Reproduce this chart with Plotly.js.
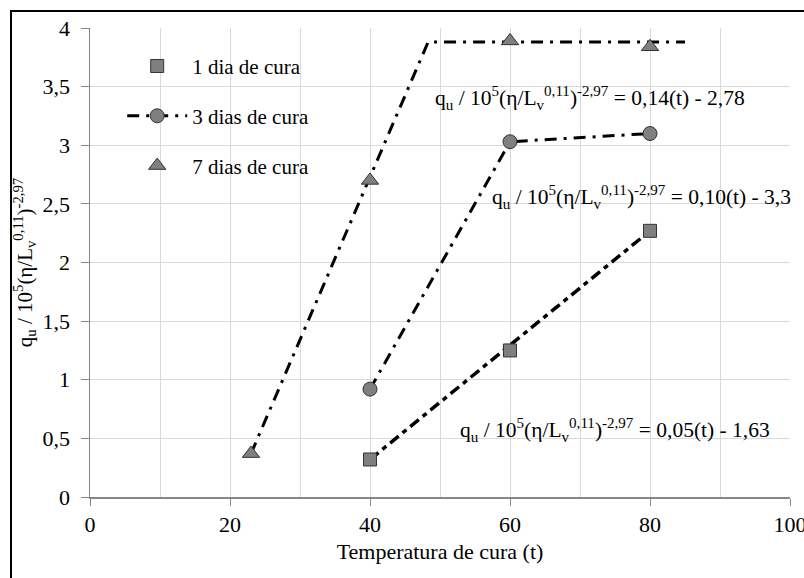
<!DOCTYPE html>
<html>
<head>
<meta charset="utf-8">
<script src="https://cdn.plot.ly/plotly-3.0.1.min.js"></script>
<style>
  html, body { margin: 0; padding: 0; background: #fff; }
  #wrap { position: relative; width: 804px; height: 578px; overflow: hidden; }
  #frame { position: absolute; left: 10px; top: 10px; width: 820px; height: 600px;
           border-left: 2px solid #000; border-top: 2px solid #000; pointer-events: none; }
  #chart { position: absolute; left: 0; top: 0; width: 804px; height: 578px; }
</style>
</head>
<body>
<div id="wrap">
  <div id="chart"></div>
  <div id="frame"></div>
</div>
<script>
// Measured points: curing temperature (t) vs normalised strength
const t1 = [40, 60, 80];
const q1 = [0.32, 1.25, 2.27];
const t3 = [40, 60, 80];
const q3 = [0.92, 3.03, 3.10];
const t7 = [23, 40, 60, 80];
const q7 = [0.37, 2.70, 3.89, 3.84];

// Trend lines
const fit1T = [40, 80];
const fit1Q = [0.32, 2.27];
const fit7T = [23, 48.3, 85];
const fit7Q = [0.37, 3.88, 3.88];

const names = ['1 dia de cura', '3 dias de cura', '7 dias de cura'];
const eqTexts = [
  'q<sub>u</sub> / 10<sup>5</sup>(η/L<sub>v</sub><sup>0,11</sup>)<sup>-2,97</sup> = 0,14(t) - 2,78',
  'q<sub>u</sub> / 10<sup>5</sup>(η/L<sub>v</sub><sup>0,11</sup>)<sup>-2,97</sup> = 0,10(t) - 3,3',
  'q<sub>u</sub> / 10<sup>5</sup>(η/L<sub>v</sub><sup>0,11</sup>)<sup>-2,97</sup> = 0,05(t) - 1,63'
];
const eqX = [49, 57.1, 52.6];
const eqY = [3.40, 2.56, 0.57];

const serif = 'Liberation Serif';
const markerFill = '#7f7f7f';
const markerEdge = {color: '#333333', width: 1};

const traces = [
  {x: fit1T, y: fit1Q, mode: 'lines', showlegend: false, hoverinfo: 'skip',
   line: {color: '#000', width: 3.5, dash: '11px,5px,5px,5px'}},
  {x: fit7T, y: fit7Q, mode: 'lines', showlegend: false, hoverinfo: 'skip',
   line: {color: '#000', width: 3, dash: '12px,7px,3px,7px'}},
  {x: t1, y: q1, name: names[0], mode: 'markers', legendgroup: 'a',
   marker: {symbol: 'square', size: 13, color: markerFill, line: markerEdge}},
  {x: t3, y: q3, name: names[1], mode: 'lines+markers', legendgroup: 'b',
   line: {color: '#000', width: 3, dash: '12px,7px,3px,7px'},
   marker: {symbol: 'circle', size: 14, color: markerFill, line: markerEdge}},
  {x: t7, y: q7, name: names[2], mode: 'markers', legendgroup: 'c',
   marker: {symbol: 'triangle-up', size: 15, color: markerFill, line: markerEdge}}
];

const annotations = eqTexts.map((txt, i) => ({
  x: eqX[i], y: eqY[i], xref: 'x', yref: 'y', text: txt, showarrow: false,
  xanchor: 'left', yanchor: 'middle',
  font: {family: serif, size: 21.5, color: '#000'}
}));

const layout = {
  width: 804, height: 578,
  margin: {l: 90, r: 14, t: 28, b: 81},
  paper_bgcolor: 'rgba(0,0,0,0)', plot_bgcolor: '#fff',
  font: {family: serif, size: 21, color: '#000'},
  separators: ',.',
  xaxis: {
    range: [0, 100], dtick: 20, tick0: 0,
    showgrid: true, gridcolor: '#d9d9d9', gridwidth: 1,
    minor: {dtick: 10, showgrid: true, gridcolor: '#d9d9d9', gridwidth: 1},
    showline: true, linecolor: '#868686', linewidth: 1.5,
    ticks: 'outside', ticklen: 7, tickcolor: '#868686',
    ticklabeloverflow: 'allow',
    zeroline: false,
    tickfont: {family: serif, size: 22, color: '#000'},
    title: {text: 'Temperatura de cura (t)', font: {family: serif, size: 22, color: '#000'}, standoff: 7}
  },
  yaxis: {
    range: [0, 4], dtick: 0.5, tick0: 0,
    showgrid: true, gridcolor: '#d9d9d9', gridwidth: 1,
    showline: true, linecolor: '#868686', linewidth: 1.5,
    ticks: 'outside', ticklen: 8, tickcolor: '#868686',
    ticklabelstandoff: 6,
    zeroline: false,
    tickfont: {family: serif, size: 22, color: '#000'},
    title: {text: 'q<sub>u</sub> / 10<sup>5</sup>(η/L<sub>v</sub><sup>0,11</sup>)<sup>-2,97</sup>',
            font: {family: serif, size: 21, color: '#000'}, standoff: 4}
  },
  legend: {
    x: 0.046, y: 0.962, xanchor: 'left', yanchor: 'top',
    bgcolor: 'rgba(0,0,0,0)', borderwidth: 0,
    traceorder: 'grouped', tracegroupgap: 19.5,
    itemwidth: 60,
    font: {family: serif, size: 21, color: '#000'}
  },
  annotations: annotations
};

Plotly.newPlot('chart', traces, layout, {displayModeBar: false, staticPlot: true});
</script>
</body>
</html>
